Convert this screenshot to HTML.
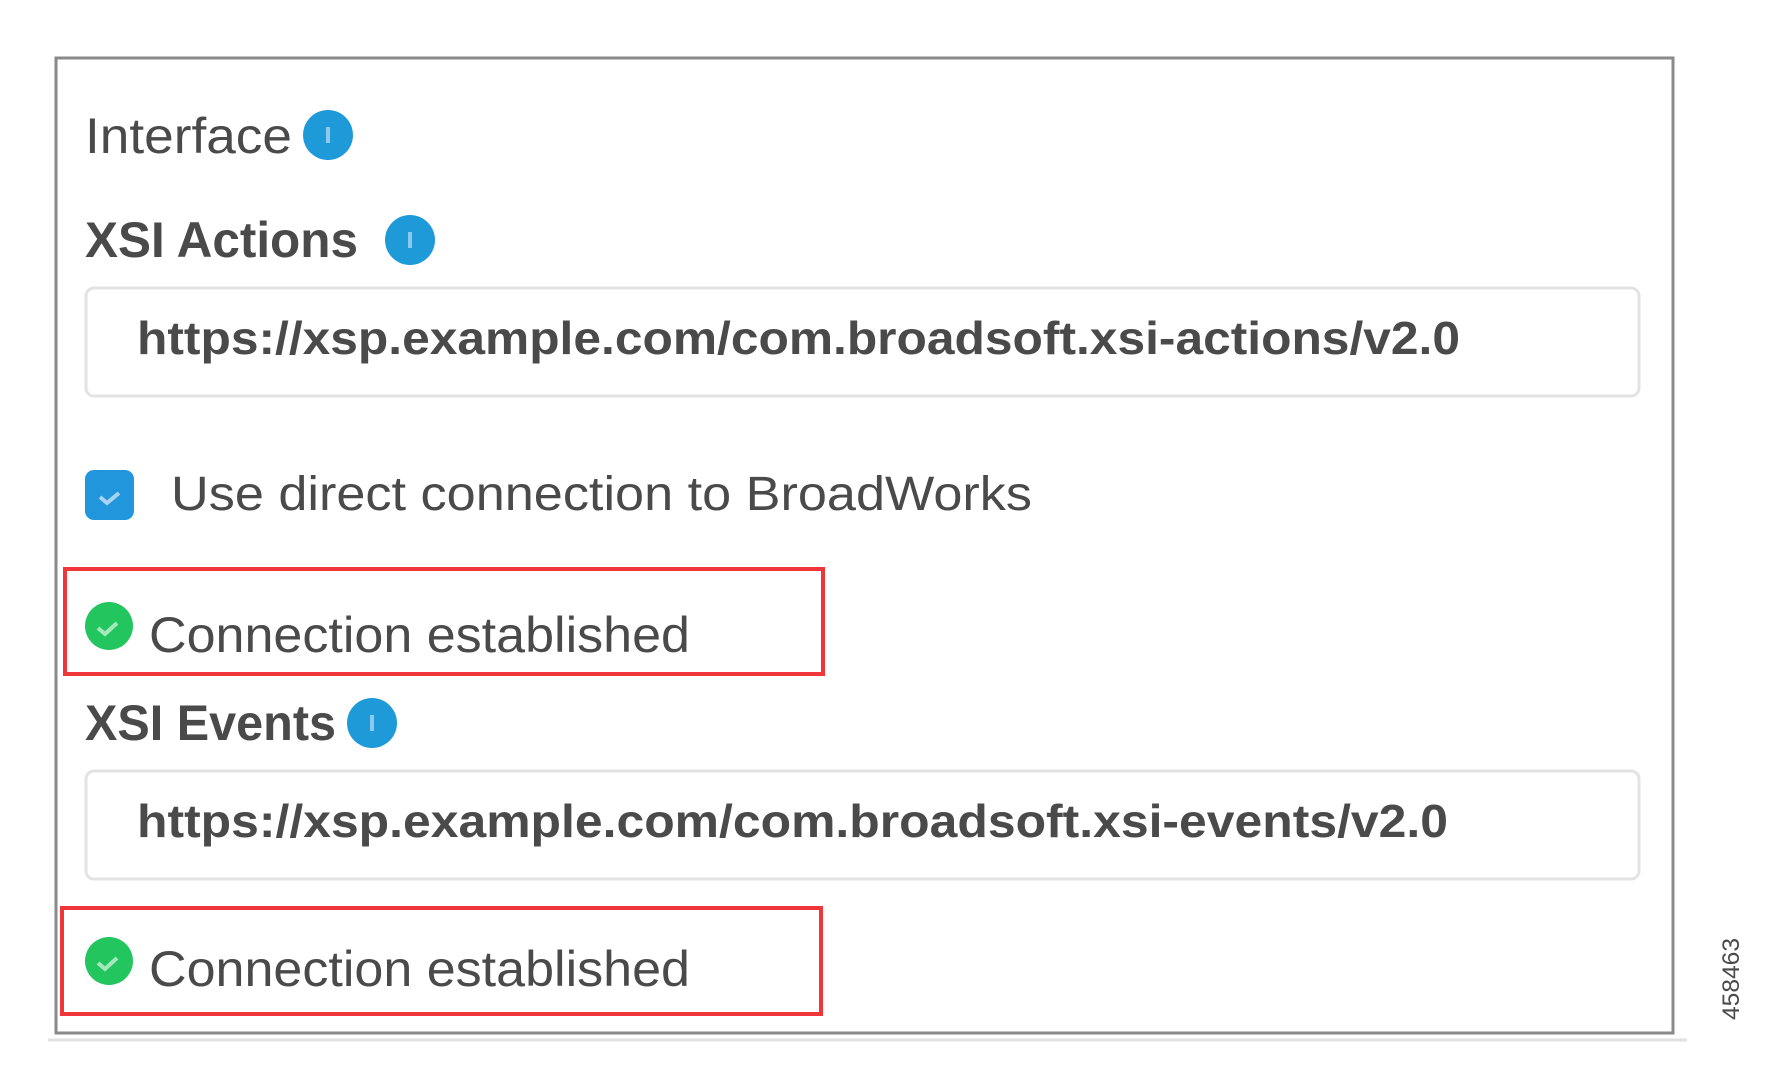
<!DOCTYPE html>
<html><head><meta charset="utf-8"><style>
html,body{margin:0;padding:0;background:#fff;}
svg{display:block;}
text{font-family:"Liberation Sans",sans-serif;fill:#4a4a4a;}
</style></head><body>
<svg width="1776" height="1086" viewBox="0 0 1776 1086" xmlns="http://www.w3.org/2000/svg">
<rect x="0" y="0" width="1776" height="1086" fill="#fff"/>
<rect x="56" y="58" width="1617" height="975" fill="#fff" stroke="#8a8a8a" stroke-width="3"/>
<line x1="48" y1="1040" x2="1687" y2="1040" stroke="#e2e2e2" stroke-width="3"/>

<text x="85" y="153" font-size="50" textLength="207" lengthAdjust="spacingAndGlyphs">Interface</text>
<circle cx="328" cy="135" r="25" fill="#1e9ad8"/>
<rect x="326" y="127" width="4" height="16" fill="#8cc9ec"/>

<text x="85" y="257" font-size="50" font-weight="bold" textLength="273" lengthAdjust="spacingAndGlyphs" fill="#333">XSI Actions</text>
<circle cx="410" cy="240" r="25" fill="#1e9ad8"/>
<rect x="408" y="232" width="4" height="16" fill="#8cc9ec"/>

<rect x="86" y="288" width="1553" height="108" rx="8" fill="#fff" stroke="#e3e3e3" stroke-width="3"/>
<text x="137" y="354" font-size="46" font-weight="bold" textLength="1323" lengthAdjust="spacingAndGlyphs" fill="#3c3c3c">https://xsp.example.com/com.broadsoft.xsi-actions/v2.0</text>

<rect x="85" y="470" width="49" height="50" rx="9" fill="#2196dc"/>
<path d="M100 497 l7 6 l12 -10" stroke="#a6d4f2" stroke-width="4" fill="none"/>
<text x="171" y="510" font-size="48" textLength="861" lengthAdjust="spacingAndGlyphs">Use direct connection to BroadWorks</text>

<rect x="65" y="569" width="758" height="105" fill="none" stroke="#f0353b" stroke-width="4"/>
<circle cx="109" cy="626" r="24" fill="#22c55e"/>
<path d="M98 628 l7 6 l12 -11" stroke="#a6e8bd" stroke-width="4" fill="none"/>
<text x="149" y="652" font-size="50" textLength="541" lengthAdjust="spacingAndGlyphs">Connection established</text>

<text x="85" y="740" font-size="50" font-weight="bold" textLength="251" lengthAdjust="spacingAndGlyphs" fill="#333">XSI Events</text>
<circle cx="372" cy="723" r="25" fill="#1e9ad8"/>
<rect x="370" y="715" width="4" height="16" fill="#8cc9ec"/>

<rect x="86" y="771" width="1553" height="108" rx="8" fill="#fff" stroke="#e3e3e3" stroke-width="3"/>
<text x="137" y="837" font-size="46" font-weight="bold" textLength="1311" lengthAdjust="spacingAndGlyphs" fill="#3c3c3c">https://xsp.example.com/com.broadsoft.xsi-events/v2.0</text>

<rect x="62" y="908" width="759" height="106" fill="none" stroke="#f0353b" stroke-width="4"/>
<circle cx="109" cy="961" r="24" fill="#22c55e"/>
<path d="M98 963 l7 6 l12 -11" stroke="#a6e8bd" stroke-width="4" fill="none"/>
<text x="149" y="986" font-size="50" textLength="541" lengthAdjust="spacingAndGlyphs">Connection established</text>

<text transform="translate(1739 1020) rotate(-90)" font-size="24" fill="#222" textLength="82" lengthAdjust="spacingAndGlyphs">458463</text>
</svg>
</body></html>
